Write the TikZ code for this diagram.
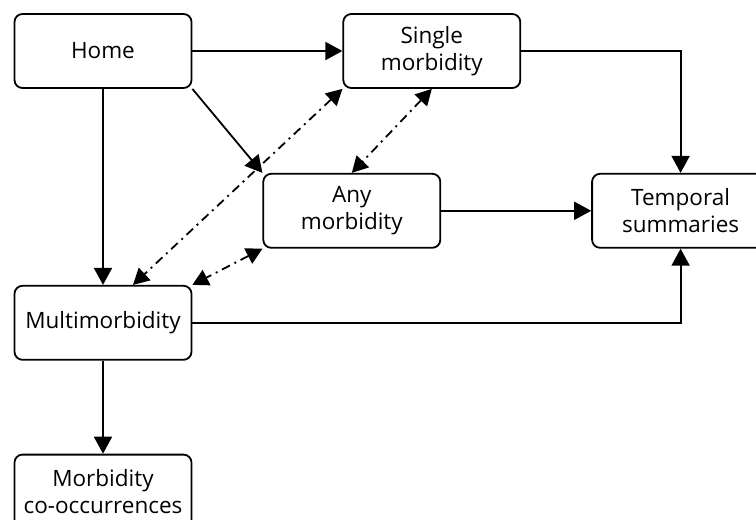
\documentclass[tikz,border=0pt]{standalone}
\usepackage{fontspec}
\setmainfont{Open Sans}
\usepackage{tikz}
\usetikzlibrary{positioning, arrows.meta}

\tikzset{
  box/.style={draw, line width=1.8pt, rounded corners=8pt, minimum width=177pt,
    minimum height=74pt, align=center, inner sep=2pt,
    font=\fontsize{22.5}{27}\selectfont},
  link/.style={line width=1.8pt, -{Triangle[length=17pt,width=18pt]}},
  dashdot/.style={line width=1.8pt, dash pattern=on 9pt off 5pt on 2pt off 5pt,
    {Triangle[length=16pt,width=17pt]}-{Triangle[length=16pt,width=17pt]}}
}

\begin{document}
\begin{tikzpicture}

        \useasboundingbox (0,0) rectangle (756pt,-520pt);

        \node[box] (home) at (103pt,-51pt) {Home};
		\node[box] (single) [right=150pt of home] {Single\\morbidity};
		\node[box] (any) [below right=84pt and 70pt of home] {Any\\morbidity};
		\node[box] (temporal) [right=150pt of any] {Temporal\\summaries};
		\node[box] (multi) [below=196pt of home] {Multimorbidity};
		\node[box] (cooc) [below=93pt of multi] {Morbidity\\co-occurrences};

		\path[link]
        (home) edge (single)
        (home) edge (multi)
        (home.south east) edge (any.north west)
        (any) edge (temporal)
        (multi) edge (cooc);

        \draw[link] (single.east) -| (temporal.north);
        \draw[link] (multi.east) -| (temporal.south);

		\path[dashdot]
        (single.south west) edge ([xshift=30pt]multi.north)
        (any.south west) edge (multi.north east)
        (single.south) edge (any.north);

    \end{tikzpicture}
\end{document}
